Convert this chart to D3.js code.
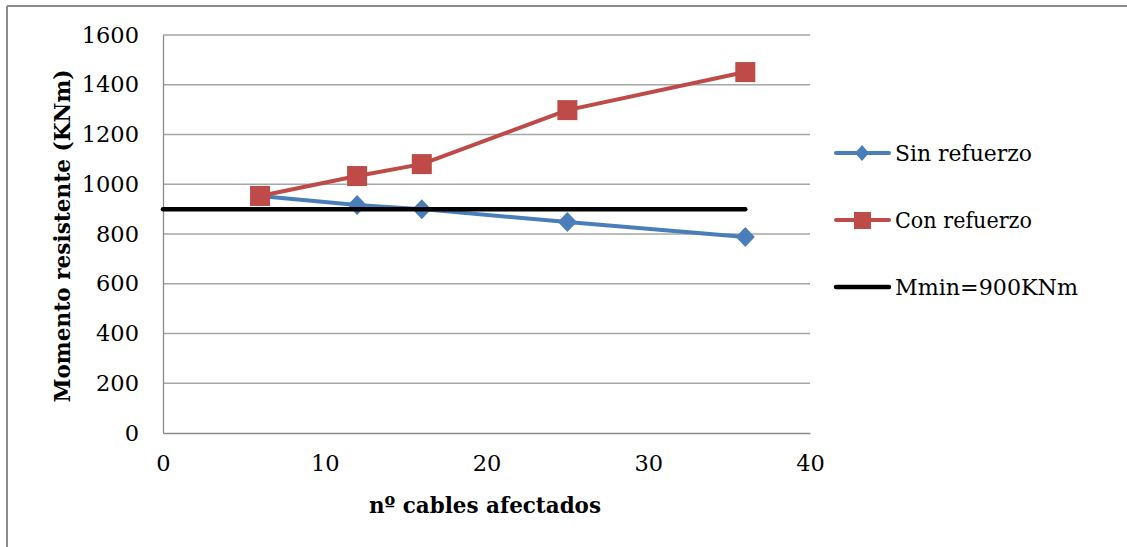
<!DOCTYPE html>
<html><head><meta charset="utf-8">
<script src="https://cdn.jsdelivr.net/npm/d3@7"></script>
<style>body{margin:0;background:#fff}svg{display:block}</style>
</head><body>
<svg id="c" width="1127" height="547"></svg>
<script>
const cables = [6, 12, 16, 25, 36];
const sinRefuerzo = [953, 917, 900, 848, 788];
const conRefuerzo = [953, 1033, 1081, 1298, 1451];
const mminX = [0, 36];
const mminY = [900, 900];
const yTicks = [0, 200, 400, 600, 800, 1000, 1200, 1400, 1600];
const xTicks = [0, 10, 20, 30, 40];
const seriesNames = ["Sin refuerzo", "Con refuerzo", "Mmin=900KNm"];
const colors = ["#4A7EBB", "#BE4B48", "#000000"];

const svg = d3.select("#c");
const font = "'DejaVu Serif', serif";
const x = d3.scaleLinear().domain([0, 40]).range([163, 810]);
const y = d3.scaleLinear().domain([0, 1600]).range([433, 35]);

// outer border (top & left visible)
svg.append("line").attr("x1", 7).attr("x2", 1127).attr("y1", 6).attr("y2", 6).attr("stroke", "#8c8c8c").attr("stroke-width", 2);
svg.append("line").attr("x1", 7).attr("x2", 7).attr("y1", 6).attr("y2", 547).attr("stroke", "#8c8c8c").attr("stroke-width", 2);

// gridlines
svg.append("g").selectAll("line").data(yTicks.filter(d => d > 0)).join("line")
  .attr("x1", x(0)).attr("x2", x(40)).attr("y1", d => y(d)).attr("y2", d => y(d))
  .attr("stroke", "#a6a6a6").attr("stroke-width", 1.3);

// axes
const yAxis = d3.axisLeft(y).tickValues(yTicks).tickSize(0).tickPadding(24).tickFormat(d3.format("d"));
const gy = svg.append("g").attr("transform", `translate(${x(0)},0)`).call(yAxis);
gy.select(".domain").attr("stroke", "#8c8c8c").attr("stroke-width", 1.3);
gy.selectAll("text").attr("font-family", font).attr("font-size", 22.5).attr("fill", "#000");

const xAxis = d3.axisBottom(x).tickValues(xTicks).tickSize(0).tickPadding(22).tickFormat(d3.format("d"));
const gx = svg.append("g").attr("transform", `translate(0,${y(0)})`).call(xAxis);
gx.select(".domain").attr("stroke", "#8c8c8c").attr("stroke-width", 1.3);
gx.selectAll("text").attr("font-family", font).attr("font-size", 22.5).attr("fill", "#000");

// titles
svg.append("text").attr("x", 485).attr("y", 513).attr("text-anchor", "middle")
  .attr("font-family", font).attr("font-weight", "bold").attr("font-size", 22)
  .attr("textLength", 232).attr("lengthAdjust", "spacingAndGlyphs")
  .text("nº cables afectados");
svg.append("text").attr("transform", "translate(70,236) rotate(-90)").attr("text-anchor", "middle")
  .attr("font-family", font).attr("font-weight", "bold").attr("font-size", 22)
  .attr("textLength", 333).attr("lengthAdjust", "spacingAndGlyphs")
  .text("Momento resistente (KNm)");

const line = d3.line().x(d => x(d[0])).y(d => y(d[1]));
const sinPts = cables.map((c, i) => [c, sinRefuerzo[i]]);
const conPts = cables.map((c, i) => [c, conRefuerzo[i]]);
const mminPts = mminX.map((c, i) => [c, mminY[i]]);

// Sin refuerzo
svg.append("path").datum(sinPts).attr("d", line).attr("fill", "none")
  .attr("stroke", colors[0]).attr("stroke-width", 4).attr("stroke-linejoin", "round");
svg.append("g").selectAll("path").data(sinPts).join("path")
  .attr("transform", d => `translate(${x(d[0])},${y(d[1])})`)
  .attr("d", "M0,-10L9.5,0L0,10L-9.5,0Z").attr("fill", colors[0]);

// Con refuerzo
svg.append("path").datum(conPts).attr("d", line).attr("fill", "none")
  .attr("stroke", colors[1]).attr("stroke-width", 4).attr("stroke-linejoin", "round");
svg.append("g").selectAll("rect").data(conPts).join("rect")
  .attr("x", d => x(d[0]) - 10).attr("y", d => y(d[1]) - 10).attr("width", 20).attr("height", 20)
  .attr("fill", colors[1]);

// Mmin
svg.append("path").datum(mminPts).attr("d", line).attr("fill", "none")
  .attr("stroke", colors[2]).attr("stroke-width", 4.5).attr("stroke-linecap", "round");

// legend
const legY = [153, 220, 287];
const lg = svg.append("g");
seriesNames.forEach((name, i) => {
  lg.append("line").attr("x1", 836).attr("x2", 889).attr("y1", legY[i]).attr("y2", legY[i])
    .attr("stroke", colors[i]).attr("stroke-width", i === 2 ? 4.5 : 4).attr("stroke-linecap", "round");
  if (i === 0) lg.append("path").attr("transform", `translate(862,${legY[i]})`).attr("d", "M0,-8L7,0L0,8L-7,0Z").attr("fill", colors[0]);
  if (i === 1) lg.append("rect").attr("x", 854).attr("y", legY[i] - 8).attr("width", 17).attr("height", 17).attr("fill", colors[1]);
  lg.append("text").attr("x", 895).attr("y", legY[i] + 8).attr("font-family", font).attr("font-size", 22)
    .attr("textLength", i === 2 ? 183 : 137).attr("lengthAdjust", "spacingAndGlyphs").text(name);
});
</script>
</body></html>
